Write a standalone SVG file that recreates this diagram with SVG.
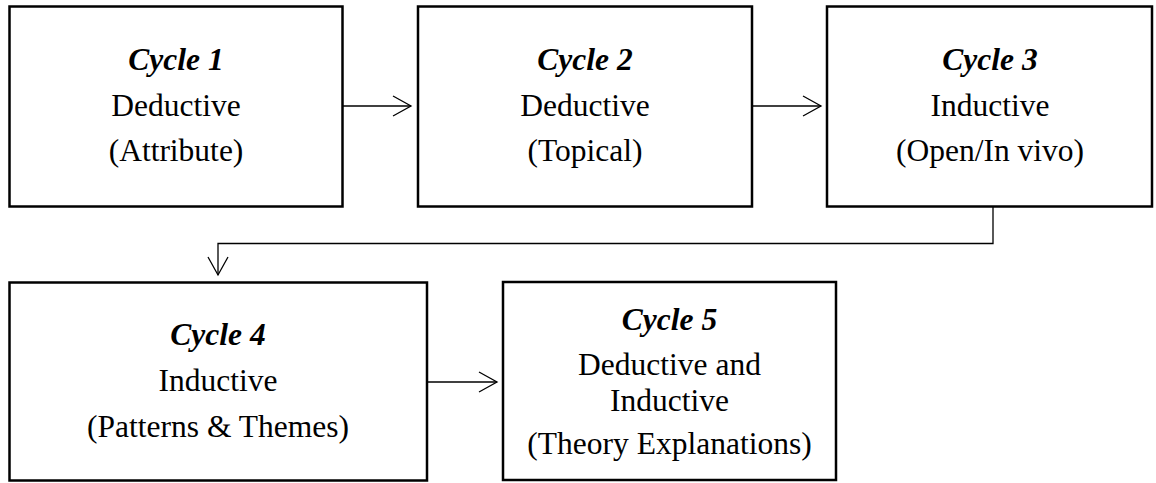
<svg xmlns="http://www.w3.org/2000/svg" width="1156" height="483" viewBox="0 0 1156 483">
<style>
.box{fill:#fff;stroke:#000;stroke-width:2.5}
.t{font-family:"Liberation Serif","Times New Roman",serif;font-size:31.5px;text-anchor:middle;fill:#000}
.h{font-weight:bold;font-style:italic}
.c{fill:none;stroke:#000;stroke-width:1.3}
</style>
<defs>
<marker id="arr" markerUnits="userSpaceOnUse" markerWidth="24" markerHeight="24" viewBox="-20 -12 24 24" refX="0" refY="0" orient="auto">
<path d="M-18,-10 L0,0 L-18,10" fill="none" stroke="#000" stroke-width="1.3"/>
</marker>
</defs>
<rect width="1156" height="483" fill="#fff"/>
<g id="connectors">
<path class="c" d="M343,106 H411" marker-end="url(#arr)"/>
<path class="c" d="M752,106 H821" marker-end="url(#arr)"/>
<path class="c" d="M993,207 V243.5 H218 V275" marker-end="url(#arr)"/>
<path class="c" d="M427,382 H497" marker-end="url(#arr)"/>
</g>
<g id="cycle1">
<rect class="box" x="9.5" y="6.5" width="333" height="200"/>
<text class="t h" x="176" y="70">Cycle 1</text>
<text class="t" x="176" y="116">Deductive</text>
<text class="t" x="176" y="161">(Attribute)</text>
</g>
<g id="cycle2">
<rect class="box" x="418" y="6.5" width="334" height="200"/>
<text class="t h" x="585" y="70">Cycle 2</text>
<text class="t" x="585" y="116">Deductive</text>
<text class="t" x="585" y="161">(Topical)</text>
</g>
<g id="cycle3">
<rect class="box" x="827" y="6.5" width="325" height="200"/>
<text class="t h" x="990" y="70">Cycle 3</text>
<text class="t" x="990" y="116">Inductive</text>
<text class="t" x="990" y="161">(Open/In vivo)</text>
</g>
<g id="cycle4">
<rect class="box" x="9.5" y="282.5" width="417.5" height="198"/>
<text class="t h" x="218" y="345">Cycle 4</text>
<text class="t" x="218" y="391">Inductive</text>
<text class="t" x="218" y="437">(Patterns &amp; Themes)</text>
</g>
<g id="cycle5">
<rect class="box" x="503" y="282" width="333" height="198"/>
<text class="t h" x="669.5" y="330">Cycle 5</text>
<text class="t" x="669.5" y="375">Deductive and</text>
<text class="t" x="669.5" y="411">Inductive</text>
<text class="t" x="669.5" y="454">(Theory Explanations)</text>
</g>
</svg>
